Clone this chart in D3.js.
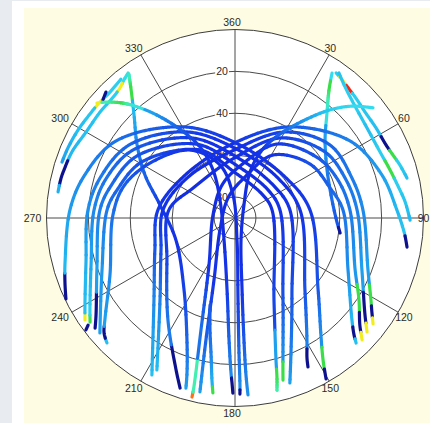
<!DOCTYPE html>
<html>
<head>
<meta charset="utf-8">
<script src="https://cdn.jsdelivr.net/npm/d3@7"></script>
<style>
  html, body { margin: 0; padding: 0; background: #e8ebef; }
  svg { display: block; }
</style>
</head>
<body>
<svg id="chart" width="430" height="423"></svg>
<script>
// Satellite passes: [azimuth deg, elevation deg, signal level 0..1]
const sat02 = [[244.4,0.5,0.03],[249.1,3.1,0.03],[255.5,6.2,0.33],[272.8,11.1,0.30],[285.5,15.2,0.27],[302.9,22.3,0.24],[331.2,40.4,0.19],[3.9,55.1,0.15],[50.6,59.1,0.15],[83.9,54.0,0.16],[130.9,37.5,0.20],[143.7,20.7,0.28],[148.2,10.2,0.50],[150.5,1.7,0.03]];
const sat05 = [[235.8,3.4,0.62],[239.9,7.2,0.34],[253.5,15.8,0.32],[273.1,19.7,0.28],[286.5,22.8,0.25],[304.6,28.6,0.22],[331.3,43.2,0.17],[4.3,57.9,0.14],[47.1,62.0,0.14],[83.0,58.7,0.15],[135.8,42.1,0.19],[149.5,22.3,0.26],[152.8,14.8,0.03],[153.9,10.8,0.03]];
const sat07 = [[234.3,4.8,0.50],[238.2,8.5,0.36],[251.9,17.7,0.31],[273.3,22.6,0.27],[286.8,25.6,0.24],[303.7,31.5,0.21],[331.7,46.6,0.16],[2.9,61.3,0.14],[50.6,65.9,0.14],[81.7,63.5,0.15],[143.5,44.3,0.19],[157.0,21.5,0.26],[161.6,7.0,0.30]];
const sat09 = [[231.8,5.0,0.03],[235.1,9.1,0.03],[250.1,19.9,0.30],[273.4,25.4,0.26],[284.5,28.8,0.23],[302.3,34.6,0.20],[332.2,50.1,0.16],[1.1,64.7,0.14],[49.7,69.3,0.14],[79.9,68.2,0.15],[148.1,46.7,0.19],[160.7,20.7,0.28],[162.5,13.9,0.50],[163.5,9.3,0.50]];
const sat10 = [[229.6,5.3,0.30],[248.6,21.8,0.29],[273.6,28.8,0.25],[283.3,32.1,0.22],[301.1,38.1,0.19],[332.8,53.5,0.15],[358.8,68.0,0.14],[48.4,72.8,0.14],[77.8,71.9,0.14],[154.6,46.6,0.18],[163.9,19.4,0.30],[165.3,11.0,0.50],[166.3,5.4,0.45]];
const sat11 = [[225.7,4.6,0.34],[228.7,6.8,0.03],[232.4,11.7,0.30],[245.5,24.4,0.27],[271.4,31.7,0.24],[286.1,34.8,0.21],[302.9,41.7,0.18],[326.5,51.1,0.15],[344.2,63.7,0.14],[355.0,79.0,0.14],[174.8,79.4,0.14],[177.9,50.8,0.16],[178.3,26.9,0.22],[178.3,10.2,0.27],[178.4,5.9,0.03]];
const sat12 = [[207.9,5.2,0.34],[224.7,35.0,0.27],[248.2,48.8,0.20],[275.9,53.0,0.16],[308.3,58.4,0.14],[356.1,55.1,0.15],[30.2,39.7,0.20],[56.2,23.9,0.26],[73.7,16.9,0.30],[87.2,12.6,0.33],[94.7,9.0,0.35],[97.7,7.6,0.03],[99.6,6.7,0.03]];
const sat13 = [[207.2,8.4,0.34],[222.5,37.0,0.26],[246.6,51.5,0.19],[276.3,55.4,0.15],[309.8,60.2,0.14],[357.4,58.0,0.14],[30.2,42.5,0.18],[52.5,32.8,0.22],[71.1,31.0,0.25],[86.4,28.8,0.27],[111.4,21.8,0.30],[121.1,14.2,0.50],[124.5,10.7,0.03],[127.5,6.9,0.62]];
const sat15 = [[197.9,4.7,0.03],[201.2,12.2,0.03],[213.3,31.7,0.25],[238.3,51.8,0.18],[276.9,58.2,0.15],[305.5,65.4,0.14],[359.0,61.4,0.14],[29.9,45.9,0.17],[53.7,36.7,0.21],[70.0,34.1,0.24],[86.2,31.6,0.26],[112.3,24.5,0.30],[126.7,12.6,0.03],[130.8,6.7,0.62]];
const sat17 = [[193.5,2.1,0.75],[193.7,7.4,0.45],[196.9,34.1,0.24],[209.0,64.4,0.15],[277.8,79.4,0.14],[338.5,73.1,0.14],[5.5,65.1,0.14],[29.6,49.4,0.16],[54.1,41.1,0.20],[69.8,37.6,0.23],[86.0,35.0,0.25],[113.4,27.5,0.29],[123.5,19.0,0.50],[130.6,11.5,0.03],[133.8,5.9,0.62]];
const sat18 = [[191.4,5.3,0.30],[193.4,30.1,0.22],[198.7,58.7,0.15],[231.3,80.8,0.14],[340.7,79.9,0.14],[12.7,70.4,0.14],[31.1,54.9,0.15],[54.2,45.9,0.19],[72.5,42.4,0.22],[85.8,38.3,0.24],[114.7,30.6,0.28],[131.1,15.9,0.33],[134.5,10.3,0.03],[135.9,6.9,0.34]];
const sat20 = [[323.6,4.0,0.40],[321.2,5.4,0.38],[318.5,7.1,0.62],[315.2,8.0,0.36],[308.1,8.1,0.35],[300.0,7.9,0.34],[292.1,6.0,0.33],[285.7,5.2,0.03],[282.9,4.8,0.03],[278.4,4.6,0.32]];
const sat21 = [[320.6,4.2,0.36],[314.8,5.3,0.36],[310.2,5.0,0.62],[305.7,4.8,0.35],[299.3,4.1,0.34],[292.7,3.5,0.32],[287.9,3.2,0.30]];
const sat24 = [[323.6,4.6,0.42],[321.3,10.5,0.50],[315.6,21.1,0.33],[306.7,31.7,0.27],[295.5,42.4,0.22],[279.8,53.7,0.17],[249.6,59.9,0.15],[215.3,47.9,0.17],[201.5,27.4,0.22],[197.3,13.0,0.27],[196.1,5.5,0.30]];
const sat25 = [[309.8,4.2,0.62],[312.4,7.9,0.45],[315.5,13.0,0.50],[318.2,18.3,0.40],[322.4,27.4,0.30],[327.7,39.1,0.22],[333.8,52.2,0.16],[335.4,64.8,0.14],[320.2,78.8,0.14],[206.6,78.3,0.14],[186.3,55.4,0.16],[182.8,31.7,0.22],[181.5,16.4,0.27],[181.0,10.7,0.03],[180.7,6.4,0.03]];
const sat26 = [[51.4,5.7,0.38],[46.3,12.7,0.38],[41.3,21.3,0.36],[35.5,32.5,0.30],[28.2,44.5,0.22],[21.7,55.1,0.16],[18.1,66.9,0.14],[34.7,82.5,0.14],[164.7,79.1,0.14],[174.4,55.5,0.15],[175.8,31.6,0.20],[176.0,14.8,0.26],[175.8,5.3,0.28]];
const sat27 = [[34.9,5.6,0.36],[38.3,6.7,0.62],[41.5,7.8,0.82],[44.8,8.6,0.36],[50.8,9.9,0.35],[57.5,10.1,0.34],[64.2,9.9,0.03],[68.3,8.8,0.50],[72.2,7.3,0.36],[76.9,5.7,0.34]];
const sat28 = [[35.6,4.8,0.34],[40.7,8.7,0.36],[47.7,11.9,0.36],[56.5,13.8,0.34],[65.5,13.9,0.36],[72.8,12.5,0.50],[78.9,10.7,0.36],[84.6,8.4,0.35],[90.7,6.4,0.33]];
const sat29 = [[33.8,6.7,0.38],[36.3,14.2,0.50],[41.0,23.0,0.40],[49.1,33.1,0.30],[62.4,40.4,0.26],[79.5,42.9,0.23],[92.2,41.3,0.20],[98.1,39.3,0.05]];
const sat30 = [[196.0,46.8,0.20],[192.6,35.2,0.22],[189.9,23.6,0.26],[188.1,11.9,0.32],[187.2,5.8,0.50]];
const sat31 = [[314.3,3.9,0.03],[311.8,5.4,0.03]];
const sat32 = [[233.9,3.2,0.03],[233.1,1.0,0.03]];

const passes = [sat20, sat21, sat31, sat27, sat28, sat29, sat24, sat02, sat05, sat07, sat09, sat10, sat11,
                sat12, sat13, sat15, sat17, sat18, sat32, sat30, sat25, sat26];

// Azimuth spokes and labels
const azTicks = [0, 30, 60, 90, 120, 150, 180, 210, 240, 270, 300, 330];
const azLabels = ["360", "30", "60", "90", "120", "150", "180", "210", "240", "270", "300", "330"];
// Elevation rings and labels
const elRings = [0, 20, 40, 60, 80];
const elLabels = ["20", "40", "60", "80"];
const elLabelRings = [20, 40, 60, 80];

// Colour scale for signal level
const levelStops = [0, 0.1, 0.15, 0.22, 0.28, 0.33, 0.38, 0.45, 0.5, 0.62, 0.72, 0.82];
const levelColors = ["#0c0c72", "#101ece", "#1432e6", "#1a64e8", "#1d90ec", "#22b8f0", "#32dcee", "#42eeb0", "#3ade48", "#f2ee1e", "#ff9212", "#f42414"];

const svg = d3.select("#chart");
const W = 430, H = 423;
const cx = 235, cy = 218, R0 = 188.5;

// page backdrop
svg.append("rect").attr("x", 0).attr("y", 0).attr("width", W).attr("height", H).attr("fill", "#e8ebef");
svg.append("rect").attr("x", 12).attr("y", 1).attr("width", W - 12).attr("height", H - 1).attr("fill", "#ffffff");
svg.append("rect").attr("x", 24).attr("y", 8).attr("width", W - 24).attr("height", H - 8).attr("fill", "#fefce3");

const r = d3.scaleLinear().domain([90, 0]).range([0, R0]);
const ang = d3.scaleLinear().domain([0, 360]).range([0, 2 * Math.PI]);
const color = d3.scaleLinear().domain(levelStops).range(levelColors).clamp(true);

const g = svg.append("g").attr("transform", `translate(${cx},${cy})`);

// plot disc
g.append("circle").attr("r", r(0)).attr("fill", "#ffffff");

// rings
g.selectAll("circle.ring").data(elRings).join("circle")
  .attr("class", "ring")
  .attr("r", d => r(d))
  .attr("fill", "none")
  .attr("stroke", d => d === 0 ? "#3c3c3c" : "#4a4a4a")
  .attr("stroke-width", 1);

// spokes
g.selectAll("line.spoke").data(azTicks).join("line")
  .attr("class", "spoke")
  .attr("x1", 0).attr("y1", 0)
  .attr("x2", d => r(0) * Math.sin(ang(d)))
  .attr("y2", d => -r(0) * Math.cos(ang(d)))
  .attr("stroke", "#4a4a4a")
  .attr("stroke-width", 1);

// elevation labels with a white backing
const elG = g.selectAll("g.ellab").data(elLabelRings).join("g")
  .attr("class", "ellab")
  .attr("transform", d => `translate(-13,${-r(d)})`);
const elText = elG.append("text")
  .attr("text-anchor", "middle")
  .attr("dy", "0.35em")
  .attr("font-family", "'Liberation Sans', Arial, sans-serif")
  .attr("font-size", 10.5)
  .attr("fill", "#2a2a2a")
  .text((d, i) => elLabels[i]);
elText.each(function () {
  const b = this.getBBox();
  d3.select(this.parentNode).insert("rect", "text")
    .attr("x", b.x - 1).attr("y", b.y)
    .attr("width", b.width + 2).attr("height", b.height)
    .attr("fill", "#ffffff");
});

// azimuth labels, kept inside the page
g.selectAll("text.azlab").data(azTicks).join("text")
  .attr("class", "azlab")
  .attr("x", d => {
    const s = Math.sin(ang(d));
    return (R0 + 7 + 4 * s * s) * s - 3;
  })
  .attr("y", d => {
    const s = Math.sin(ang(d));
    return -(R0 + 7 + 4 * s * s) * Math.cos(ang(d));
  })
  .attr("text-anchor", "middle")
  .attr("dy", "0.35em")
  .attr("font-family", "'Liberation Sans', Arial, sans-serif")
  .attr("font-size", 10.5)
  .attr("fill", "#2a2a2a")
  .text((d, i) => azLabels[i])
  .each(function () {
    const b = this.getBBox();
    const over = cx + b.x + b.width - (W - 0.5);
    if (over > 0) d3.select(this).attr("x", +d3.select(this).attr("x") - over);
  });

// passes: smooth radial curve through the samples, coloured by level along its length
const radial = d3.lineRadial()
  .angle(d => ang(d[0]))
  .radius(d => r(d[1]))
  .curve(d3.curveCatmullRom.alpha(0.5));

const trackG = g.append("g")
  .attr("fill", "none")
  .attr("stroke-width", 3.2)
  .attr("stroke-linecap", "round")
  .attr("stroke-linejoin", "round");

const scratch = g.append("g").attr("visibility", "hidden");

passes.forEach(pass => {
  const p = scratch.append("path").attr("d", radial(pass));
  const node = p.node();
  const L = node.getTotalLength();
  const step = 1;
  const samples = [];
  for (let s = 0; s < L; s += step) samples.push(node.getPointAtLength(s));
  samples.push(node.getPointAtLength(L));

  // sample index closest to each data point, walking forward along the curve
  const pts = pass.map(d => [r(d[1]) * Math.sin(ang(d[0])), -r(d[1]) * Math.cos(ang(d[0]))]);
  const at = [];
  let j0 = 0;
  pts.forEach(pt => {
    let best = Infinity, bj = j0;
    for (let j = j0; j < samples.length; j++) {
      const dd = Math.hypot(samples[j].x - pt[0], samples[j].y - pt[1]);
      if (dd < best) { best = dd; bj = j; }
      else if (best < 1.5 && dd > best + 4) break;
    }
    at.push(bj);
    j0 = bj;
  });

  const levelAt = j => {
    let i = 0;
    while (i < at.length - 2 && j >= at[i + 1]) i++;
    const a = at[i], b = at[i + 1];
    const t = b > a ? Math.min(1, Math.max(0, (j - a) / (b - a))) : 0;
    const v0 = pass[i][2], v1 = pass[i + 1][2];
    if (Math.abs(v1 - v0) < 0.1) return v0 + (v1 - v0) * t;
    return t < 0.5 ? v0 : v1;
  };

  // group consecutive samples sharing a colour into one polyline
  let run = [samples[0]];
  let runColor = color(Math.round(levelAt(0) * 100) / 100);
  for (let j = 1; j < samples.length; j++) {
    const c = color(Math.round(levelAt(j - 0.5) * 100) / 100);
    if (c !== runColor) {
      trackG.append("path")
        .attr("d", d3.line()(run.map(q => [q.x, q.y])))
        .attr("stroke", runColor);
      run = [samples[j - 1]];
      runColor = c;
    }
    run.push(samples[j]);
  }
  trackG.append("path")
    .attr("d", d3.line()(run.map(q => [q.x, q.y])))
    .attr("stroke", runColor);

  p.remove();
});
scratch.remove();
</script>
</body>
</html>
